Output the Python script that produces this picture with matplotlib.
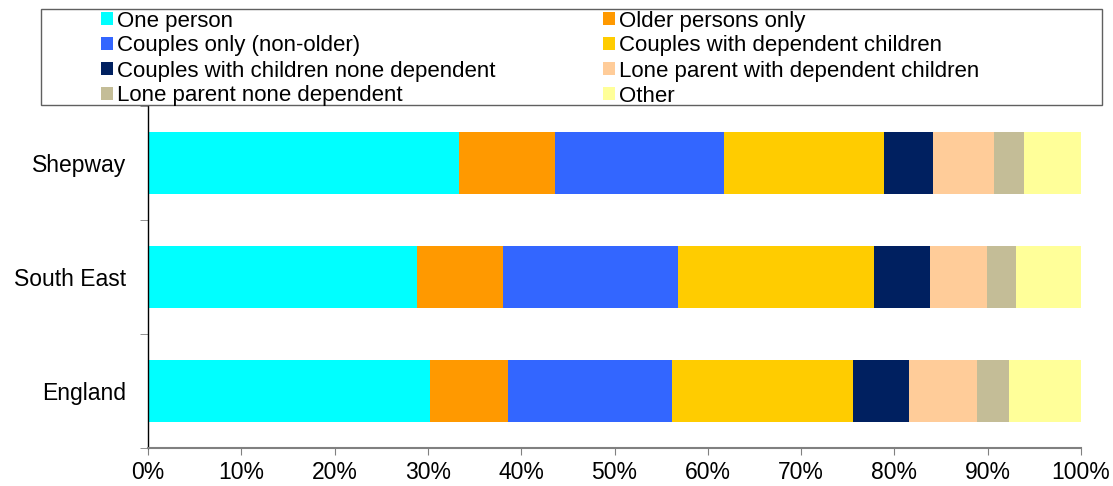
import matplotlib
matplotlib.use("Agg")
import matplotlib.pyplot as plt
from matplotlib.patches import Rectangle
import numpy as np

plt.rcParams['font.family'] = ['Liberation Sans', 'DejaVu Sans']

areas = ["Shepway", "South East", "England"]
series_names = [
    "One person",
    "Older persons only",
    "Couples only (non-older)",
    "Couples with dependent children",
    "Couples with children none dependent",
    "Lone parent with dependent children",
    "Lone parent none dependent",
    "Other",
]
colors = ["#00FFFF", "#FF9900", "#3366FF", "#FFCC00",
          "#002060", "#FFCC99", "#C4BD97", "#FFFF99"]

one_person        = [33.3, 28.8, 30.2]
older_only        = [10.3,  9.3,  8.4]
couples_only      = [18.1, 18.7, 17.6]
couples_dep       = [17.2, 21.0, 19.4]
couples_nondep    = [ 5.2,  6.0,  6.0]
lone_dep          = [ 6.6,  6.1,  7.2]
lone_nondep       = [ 3.2,  3.1,  3.5]
other             = [ 6.1,  7.0,  7.7]

series = [one_person, older_only, couples_only, couples_dep,
          couples_nondep, lone_dep, lone_nondep, other]
xticks = [0, 10, 20, 30, 40, 50, 60, 70, 80, 90, 100]

W, H = 1113, 486
fig = plt.figure(figsize=(W / 100, H / 100), dpi=100)
ax = fig.add_axes([148 / W, 1 - 448 / H, (1081 - 148) / W, (448 - 106) / H])

y = np.arange(len(areas))
left = np.zeros(len(areas))
handles = []
for name, vals, c in zip(series_names, series, colors):
    vals = np.array(vals, dtype=float)
    b = ax.barh(y, vals, left=left, height=0.55, color=c, label=name,
                edgecolor='none')
    handles.append(b)
    left += vals

ax.set_xlim(0, 100)
ax.set_ylim(len(areas) - 0.5, -0.5)
ax.set_xticks(xticks)
ax.set_xticklabels([f"{v}%" for v in xticks], fontsize=16.5)
ax.set_yticks(y)
ax.set_yticklabels(areas, fontsize=16.5)
ax.set_yticks(np.arange(-0.5, len(areas), 1.0), minor=True)
ax.tick_params(axis='y', which='major', length=0, pad=16)
ax.tick_params(axis='y', which='minor', length=6, color='#808080', direction='out')
ax.tick_params(axis='x', which='major', length=5, color='#808080', pad=4)

for s in ['top', 'right']:
    ax.spines[s].set_visible(False)
ax.spines['left'].set_color('black')
ax.spines['left'].set_linewidth(1.0)
ax.spines['bottom'].set_color('#808080')
ax.spines['bottom'].set_linewidth(1.5)

# legend frame
fig.patches.append(Rectangle((41 / W, 1 - 105 / H), (1102 - 41) / W, (105 - 9) / H,
                             transform=fig.transFigure, fill=False,
                             edgecolor='#606060', linewidth=1.0))

col1 = [0, 2, 4, 6]
col2 = [1, 3, 5, 7]
legkw = dict(frameon=False, fontsize=16, handlelength=0.55, handleheight=0.55,
             handletextpad=0.15, labelspacing=0.18, borderpad=0.0,
             borderaxespad=0.0, loc='upper left')
fig.legend([handles[i] for i in col1], [series_names[i] for i in col1],
           bbox_to_anchor=(101 / W, 1 - 10.5 / H), **legkw)
fig.legend([handles[i] for i in col2], [series_names[i] for i in col2],
           bbox_to_anchor=(603 / W, 1 - 10.5 / H), **legkw)

fig.savefig("out.png", dpi=100)
